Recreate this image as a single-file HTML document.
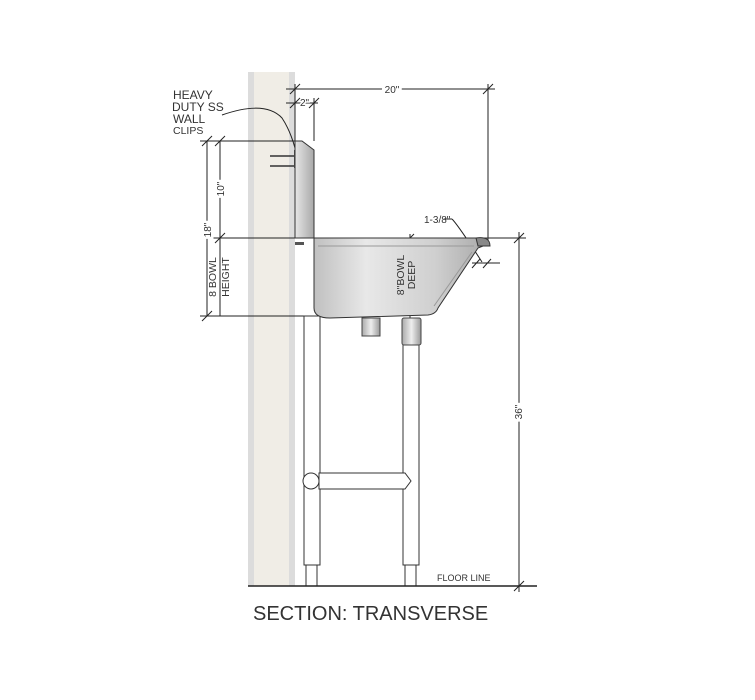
<!DOCTYPE html>
<html><head><meta charset="utf-8"><style>
html,body{margin:0;padding:0;background:#fff;width:755px;height:700px;overflow:hidden}
svg{display:block}
text{font-family:"Liberation Sans",sans-serif;fill:#333}
</style></head><body>
<svg width="755" height="700" viewBox="0 0 755 700" xmlns="http://www.w3.org/2000/svg">
<defs>
<linearGradient id="bowl" x1="0" x2="1" y1="0" y2="0">
<stop offset="0" stop-color="#c0c0c0"/><stop offset="0.3" stop-color="#e8e8e8"/><stop offset="0.7" stop-color="#cfcfcf"/><stop offset="1" stop-color="#a8a8a8"/>
</linearGradient>
<linearGradient id="splash" x1="0" x2="1"><stop offset="0" stop-color="#e6e6e6"/><stop offset="1" stop-color="#a8a8a8"/></linearGradient>
<linearGradient id="pipe" x1="0" x2="1"><stop offset="0" stop-color="#aaa"/><stop offset="0.5" stop-color="#eee"/><stop offset="1" stop-color="#999"/></linearGradient>
</defs>
<rect x="248" y="72" width="47" height="514" fill="#f0ede6"/>
<rect x="248" y="72" width="6" height="514" fill="#dcdcdc"/>
<rect x="289" y="72" width="6" height="514" fill="#dcdcdc"/>
<g stroke="#222" stroke-width="1" fill="none">
<line x1="286" y1="89" x2="495" y2="89"/>
<line x1="290" y1="94" x2="300" y2="84"/><line x1="483" y1="94" x2="493" y2="84"/>
<line x1="286" y1="103" x2="318" y2="103"/>
<line x1="290" y1="108" x2="300" y2="98"/><line x1="309" y1="108" x2="319" y2="98"/>
<line x1="295" y1="84" x2="295" y2="141"/>
<line x1="314" y1="98" x2="314" y2="141"/>
<line x1="488" y1="84" x2="488" y2="238"/>
<line x1="200" y1="141" x2="300" y2="141"/>
<line x1="207" y1="141" x2="207" y2="316"/>
<line x1="220" y1="141" x2="220" y2="316"/>
<line x1="202" y1="146" x2="212" y2="136"/><line x1="215" y1="146" x2="225" y2="136"/>
<line x1="215" y1="243" x2="225" y2="233"/>
<line x1="200" y1="316" x2="310" y2="316"/>
<line x1="202" y1="321" x2="212" y2="311"/>
<line x1="205" y1="238" x2="526" y2="238"/>
<line x1="519" y1="232" x2="519" y2="592"/>
<line x1="514" y1="243" x2="524" y2="233"/><line x1="514" y1="591" x2="524" y2="581"/>
<line x1="410" y1="234" x2="410" y2="252"/><line x1="410" y1="297" x2="410" y2="318"/>
<line x1="406" y1="242" x2="414" y2="234"/>
<line x1="444" y1="219" x2="452" y2="219"/>
<path d="M452 219 Q458 225 482 262"/>
<line x1="472" y1="263" x2="500" y2="263"/>
<line x1="472" y1="268" x2="480" y2="259"/><line x1="483" y1="268" x2="491" y2="259"/>
<path d="M222 115 Q265 100 282 118 Q290 130 295 148"/>
</g>
<g stroke="#333" stroke-width="1.5"><line x1="270" y1="156" x2="297" y2="156"/><line x1="270" y1="166" x2="297" y2="166"/></g>
<rect x="294" y="150" width="3" height="18" fill="#555"/>
<path d="M295 141 L302 141 L314 150 L314 238 L295 238 Z" fill="url(#splash)" stroke="#333"/>
<rect x="295" y="242" width="9" height="3" fill="#555"/>
<rect x="304" y="316" width="16" height="249" fill="#fff" stroke="#333"/>
<rect x="306" y="565" width="11" height="21" fill="#fff" stroke="#333"/>
<rect x="403" y="340" width="16" height="225" fill="#fff" stroke="#333"/>
<rect x="405" y="565" width="11" height="21" fill="#fff" stroke="#333"/>
<path d="M319 473 L405 473 L411 481 L405 489 L319 489 Z" fill="#fff" stroke="#333"/>
<circle cx="311" cy="481" r="8" fill="#fff" stroke="#333"/>
<path d="M314 238 L488 238 L488 244 L478 248 L438 308 Q436 314 428 315 L330 318 Q314 318 314 308 Z" fill="url(#bowl)" stroke="#333"/>
<path d="M318 246 L474 246 M434 306 L472 252" stroke="#999" fill="none"/>
<path d="M476 238 Q490 236 490 246 L478 246 Z" fill="#888" stroke="#333"/>
<rect x="362" y="318" width="18" height="18" fill="url(#pipe)" stroke="#444"/>
<rect x="402" y="318" width="19" height="27" rx="2" fill="url(#pipe)" stroke="#444"/>
<line x1="248" y1="586" x2="537" y2="586" stroke="#222" stroke-width="1.5"/>
<text x="173" y="99" font-size="12">HEAVY</text>
<text x="172" y="111" font-size="12">DUTY SS</text>
<text x="173" y="123" font-size="12">WALL</text>
<text x="173" y="134" font-size="10.5">CLIPS</text>
<text x="392" y="93" font-size="10" text-anchor="middle" style="paint-order:stroke" stroke="#fff" stroke-width="6">20"</text>
<text x="304.5" y="106" font-size="10" text-anchor="middle" style="paint-order:stroke" stroke="#fff" stroke-width="3">2"</text>
<text x="424" y="223" font-size="10">1-3/8"</text>
<text transform="translate(211,230) rotate(-90)" font-size="10" text-anchor="middle" style="paint-order:stroke" stroke="#fff" stroke-width="5">18"</text>
<text transform="translate(224,189) rotate(-90)" font-size="10" text-anchor="middle" style="paint-order:stroke" stroke="#fff" stroke-width="5">10"</text>
<text transform="translate(216,277) rotate(-90)" font-size="10.5" text-anchor="middle">8 BOWL</text>
<text transform="translate(229,277) rotate(-90)" font-size="10.5" text-anchor="middle">HEIGHT</text>
<text transform="translate(404,275) rotate(-90)" font-size="10.5" text-anchor="middle">8"BOWL</text>
<text transform="translate(415,275) rotate(-90)" font-size="10.5" text-anchor="middle">DEEP</text>
<text transform="translate(522,412) rotate(-90)" font-size="10" text-anchor="middle" style="paint-order:stroke" stroke="#fff" stroke-width="5">36"</text>
<text x="437" y="581" font-size="9">FLOOR LINE</text>
<text x="253" y="620" font-size="20" fill="#222">SECTION: TRANSVERSE</text>
</svg>
</body></html>
